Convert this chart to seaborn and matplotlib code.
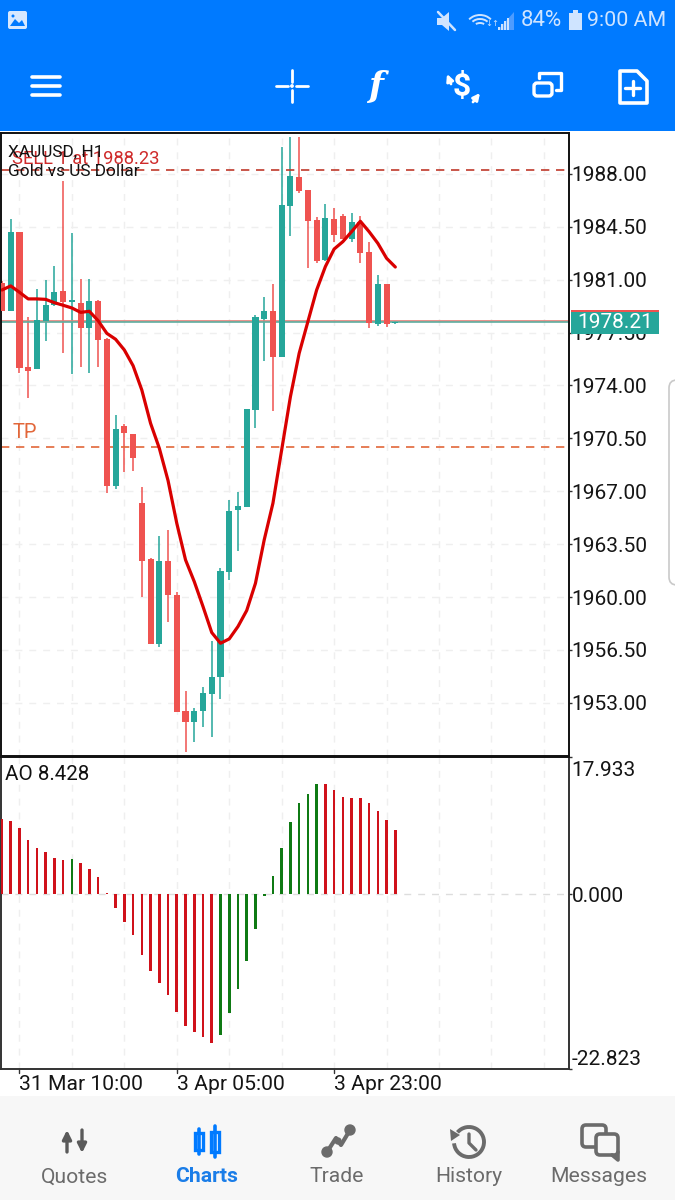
import numpy as np
import pandas as pd
import matplotlib
matplotlib.use('Agg')
import matplotlib.pyplot as plt
from matplotlib.patches import Rectangle, FancyBboxPatch, Circle, Polygon, Arc
from matplotlib.transforms import ScaledTranslation
import seaborn as sns

# Candles (H1 XAUUSD), oldest first
opens = [1980.76, 1978.95, 1984.16, 1975.23, 1975.09, 1978.29, 1979.31, 1980.23, 1979.53, 1979.48,
         1977.83, 1979.61, 1977.06, 1967.33, 1971.30, 1970.81, 1966.21, 1962.50, 1956.90, 1962.37,
         1960.12, 1952.49, 1951.76, 1952.49, 1953.61, 1954.72, 1961.69, 1965.79, 1965.94, 1972.40,
         1978.40, 1978.95, 1975.91, 1985.88, 1987.80, 1986.92, 1984.95, 1982.31, 1985.00, 1985.24,
         1983.72, 1984.82, 1982.84, 1978.07, 1980.72, 1978.11]
highs = [1980.90, 1985.00, 1984.16, 1978.56, 1980.37, 1980.98, 1981.91, 1987.53, 1984.07, 1981.03,
         1981.03, 1979.66, 1977.12, 1972.05, 1971.43, 1970.81, 1967.25, 1962.57, 1964.07, 1964.44,
         1960.32, 1953.79, 1952.64, 1954.05, 1957.12, 1961.93, 1966.39, 1966.96, 1972.45, 1978.67,
         1979.88, 1980.70, 1989.81, 1990.42, 1990.42, 1986.92, 1985.17, 1985.99, 1985.77, 1985.33,
         1985.44, 1985.22, 1983.52, 1981.29, 1980.72, 1978.29]
lows = [1978.90, 1978.95, 1974.85, 1973.15, 1975.09, 1976.97, 1979.26, 1976.13, 1974.74, 1975.20,
        1974.85, 1975.20, 1966.87, 1967.18, 1968.30, 1968.35, 1959.99, 1956.90, 1956.72, 1958.33,
        1952.42, 1949.73, 1950.39, 1951.43, 1950.77, 1953.24, 1961.13, 1963.05, 1965.94, 1971.17,
        1975.62, 1972.34, 1975.91, 1983.89, 1986.76, 1981.80, 1982.09, 1982.26, 1983.52, 1983.72,
        1983.52, 1982.13, 1977.78, 1977.96, 1977.89, 1978.05]
closes = [1978.95, 1984.16, 1975.16, 1974.98, 1978.34, 1979.33, 1980.17, 1979.53, 1979.64, 1977.83,
          1979.57, 1976.99, 1967.33, 1971.12, 1970.84, 1969.19, 1962.41, 1956.90, 1962.37, 1960.12,
          1952.42, 1951.76, 1952.49, 1953.68, 1954.72, 1961.75, 1965.72, 1966.03, 1972.45, 1978.53,
          1978.91, 1975.86, 1985.95, 1987.84, 1986.87, 1984.91, 1982.24, 1985.06, 1983.94, 1983.72,
          1984.82, 1982.77, 1978.16, 1980.72, 1978.05, 1978.21]
ma_line = [1980.32, 1980.59, 1980.17, 1979.73, 1979.73, 1979.70, 1979.48, 1979.31, 1979.13, 1978.84,
           1978.91, 1978.29, 1977.45, 1977.06, 1976.35, 1975.31, 1973.70, 1971.50, 1969.85, 1967.71,
           1964.88, 1962.46, 1961.02, 1959.37, 1957.65, 1956.94, 1957.23, 1958.05, 1959.11, 1960.91,
           1963.78, 1966.21, 1969.74, 1973.26, 1976.13, 1978.23, 1980.32, 1981.87, 1983.03, 1983.52,
           1984.18, 1984.87, 1984.18, 1983.41, 1982.42, 1981.84]
ao_values = [9.79, 9.57, 8.61, 7.12, 6.03, 5.55, 4.72, 4.50, 4.59, 4.06, 3.36, 2.32, 0.13, -1.75, -3.58,
             -5.33, -7.91, -10.05, -11.62, -13.11, -15.38, -17.17, -18.00, -18.65, -19.40, -18.39,
             -15.55, -12.32, -8.74, -4.50, -0.22, 2.36, 5.99, 9.39, 11.88, 13.11, 14.42, 14.42, 13.67,
             12.71, 12.58, 12.54, 11.88, 10.83, 9.74, 8.428]

price_ticks = [1988.0, 1984.5, 1981.0, 1977.5, 1974.0, 1970.5, 1967.0, 1963.5, 1960.0, 1956.5, 1953.0]
time_grid = [2, 8, 14, 20, 26, 32, 38, 44, 50, 56, 62]
time_ticks = [2, 20, 38]
time_labels = ['31 Mar 10:00', '3 Apr 05:00', '3 Apr 23:00']
ao_ticks = [17.933, 0.0, -22.823]
ao_tick_labels = ['17.933', '0.000', '-22.823']
sell_price = 1988.23
tp_price = 1969.95
ask_price = 1978.30
bid_price = 1978.17

W, H = 675, 1200
UP = '#26a69a'
DOWN = '#ef5350'
BLUE = '#007aff'
GREY = '#6b6b6b'

sns.set_theme(style='white')
plt.rcParams['font.family'] = ['Roboto', 'DejaVu Sans']

fig = plt.figure(figsize=(W / 100, H / 100), dpi=100, facecolor='white')


def px_axes(left, top, right, bottom):
    return fig.add_axes([left / W, 1 - bottom / H, (right - left) / W, (bottom - top) / H])


candles = pd.DataFrame({'bar': np.arange(len(opens)), 'open': opens, 'high': highs,
                        'low': lows, 'close': closes, 'ma': ma_line, 'ao': ao_values})
candles['rising'] = candles['close'] >= candles['open']
candles['ao_dir'] = np.where(candles['ao'].diff() > 0, 'up', 'down')

# Price panel
ax = px_axes(1, 133, 569, 756)
ax.set_xlim(-0.11, 64.87)
ax.set_ylim(1949.48, 1990.71)
ax.set_axisbelow(True)
for colour, rows in [(UP, candles[candles['rising']]), (DOWN, candles[~candles['rising']])]:
    ax.vlines(rows['bar'], rows['low'], rows['high'], color=colour, lw=1.3, alpha=0.85, zorder=2)
    ax.bar(rows['bar'], (rows['close'] - rows['open']).abs(), bottom=rows[['open', 'close']].min(axis=1),
           width=0.7, color=colour, edgecolor='none', linewidth=0, zorder=3)
sns.lineplot(data=candles, x='bar', y='ma', color='#d90000', lw=2.3, ax=ax, zorder=4)
ax.axhline(ask_price, color='#e57f78', lw=1.2, zorder=2.5)
ax.axhline(bid_price, color='#5fae9f', lw=1.2, zorder=2.5)
ax.axhline(sell_price, color='#c0392b', lw=1.2, ls=(0, (5, 4)), zorder=2.5)
ax.axhline(tp_price, color='#e2673a', lw=1.2, ls=(0, (5, 4)), zorder=2.5)
ax.set_xticks(time_grid)
ax.tick_params(axis='x', bottom=False, labelbottom=False)
ax.yaxis.tick_right()
ax.set_yticks(price_ticks)
ax.set_yticklabels([f'{t:.2f}' for t in price_ticks], fontsize=15, color='#151515')
ax.tick_params(axis='y', right=True, length=2, width=1, pad=0, color='#333333')
ax.grid(True, color='#efefef', lw=1, ls=(0, (5, 5)))
ax.set_xlabel('')
ax.set_ylabel('')
for side in ax.spines.values():
    side.set_color('#111111')
    side.set_linewidth(1.4)

# AO panel
ax2 = px_axes(1, 757, 569, 1069)
sns.barplot(data=candles, x='bar', y='ao', hue='ao_dir', palette={'up': '#0f7a14', 'down': '#d0121b'},
            native_scale=True, dodge=False, width=0.3, saturation=1, errorbar=None, legend=False, ax=ax2,
            edgecolor='none', linewidth=0, zorder=3)
ax2.set_xlim(-0.11, 64.87)
ax2.set_ylim(ao_ticks[2], ao_ticks[0])
ax2.set_xticks(time_grid)
ax2.set_xticklabels([''] * len(time_grid))
ax2.tick_params(axis='x', bottom=False)
ax2.grid(True, axis='x', color='#efefef', lw=1, ls=(0, (5, 5)))
ax2.axhline(0, color='#dddddd', lw=1, ls=(0, (5, 5)), zorder=1)
ax2.set_axisbelow(True)
ax2.yaxis.tick_right()
ax2.set_yticks(ao_ticks)
ax2.set_yticklabels(ao_tick_labels, fontsize=15, color='#151515')
ax2.tick_params(axis='y', right=True, length=2, width=1, pad=0, color='#333333')
labels = ax2.get_yticklabels()
labels[0].set_va('top')
labels[0].set_transform(labels[0].get_transform() + ScaledTranslation(0, -4 / 100, fig.dpi_scale_trans))
labels[2].set_va('bottom')
ax2.set_xlabel('')
ax2.set_ylabel('')
for side in ax2.spines.values():
    side.set_color('#333333')
    side.set_linewidth(1.4)
ax2.spines['top'].set_color('#111111')
for t, lab in zip(time_ticks, time_labels):
    ax2.annotate(lab, xy=(t, 0), xycoords=ax2.get_xaxis_transform(), xytext=(0, -15), textcoords='offset pixels',
                 fontsize=15.2, color='#151515', ha='left', va='center')
    ax2.plot([t, t], [0, -0.012], color='#333333', lw=1, transform=ax2.get_xaxis_transform(), clip_on=False)

# App chrome on a pixel grid over the whole figure
ov = fig.add_axes([0, 0, 1, 1], zorder=10)
ov.set_xlim(0, W)
ov.set_ylim(H, 0)
ov.axis('off')
ov.patch.set_alpha(0)

ov.add_patch(Rectangle((0, 0), W, 131, color=BLUE, lw=0))
ov.add_patch(Rectangle((0, 1096), W, 104, color='#f7f7f7', lw=0))

# Chart header text
ov.text(12, 159, 'SELL 1 at 1988.23', color='#cf2b2b', fontsize=13.2, va='center')
ov.text(13, 433, 'TP', color='#e2673a', fontsize=14.5, va='center')
ov.text(8, 152, 'XAUUSD, H1', fontsize=12.4, color='#111111', va='center')
ov.text(8, 172, 'Gold vs US Dollar', fontsize=12.4, color='#111111', va='center')
ov.text(5, 775, 'AO 8.428', fontsize=14.8, color='#111111', va='center')

# Current price tag
ov.add_patch(Rectangle((571, 310), 88, 24, color=UP, lw=0))
ov.add_patch(Rectangle((571, 310), 88, 2, color=DOWN, lw=0))
ov.text(615, 323, '1978.21', fontsize=15, color='white', ha='center', va='center')

# Side handle
ov.add_patch(FancyBboxPatch((669, 380), 20, 205, boxstyle='round,pad=0,rounding_size=8', fc='white',
                            ec='#c9c9c9', lw=1.2))

# Status bar
STATUS = '#cfe4ff'
ov.add_patch(FancyBboxPatch((8, 11), 19, 18, boxstyle='round,pad=0,rounding_size=2', fc='#d6e8ff', ec='none'))
ov.add_patch(Polygon([[10, 26], [15, 19], [19, 23], [22, 20], [25, 26]], fc=BLUE, ec='none'))
ov.add_patch(Circle((13, 16), 1.5, fc=BLUE, ec='none'))
ov.add_patch(Polygon([[437, 18], [442, 18], [449, 12], [449, 31], [442, 25], [437, 25]], fc=STATUS, ec='none'))
ov.plot([438, 455], [12, 30], color=STATUS, lw=1.8)
for r in [4, 8, 12]:
    ov.add_patch(Arc((480, 27), 2 * r + 4, 2 * r, theta1=215, theta2=325, color=STATUS, lw=1.4))
ov.text(492, 24, '↓↑', fontsize=6, color=STATUS, ha='center', va='center', family=['DejaVu Sans'])
ov.add_patch(Polygon([[498, 30], [514, 30], [514, 12]], fc='#4d9cff', ec='none'))
for i, h in enumerate([3, 6, 9, 12]):
    ov.add_patch(Rectangle((498 + i * 3, 30 - h), 1.8, h, color=STATUS, lw=0))
ov.text(541, 21, '84%', fontsize=16, color=STATUS, ha='center', va='center')
ov.add_patch(Rectangle((569, 13), 13, 17, color=STATUS, lw=0))
ov.add_patch(Rectangle((573, 10), 5, 3, color=STATUS, lw=0))
ov.text(626.5, 21, '9:00 AM', fontsize=15.4, color=STATUS, ha='center', va='center')

# Toolbar icons
for y in [77, 86, 95]:
    ov.plot([32, 60], [y, y], color='white', lw=2.6, solid_capstyle='round')
for x0, y0, x1, y1 in [(276, 86, 288, 86), (296, 86, 308, 86), (292, 70, 292, 82), (292, 90, 292, 102)]:
    ov.plot([x0, x1], [y0, y1], color='white', lw=2)
ov.add_patch(Circle((292, 86), 1.2, color='white'))
ov.text(376, 87, 'f', fontsize=25, color='white', style='italic', weight='bold', ha='center', va='center',
        family=['DejaVu Serif'])
ov.text(462, 87, '$', fontsize=23, color='white', weight='bold', ha='center', va='center')
ov.annotate('', xy=(447, 74), xytext=(451, 84), arrowprops=dict(arrowstyle='-|>', color='white', lw=2, shrinkA=0,
                                                                shrinkB=0, mutation_scale=10))
ov.annotate('', xy=(480, 93), xytext=(473, 102), arrowprops=dict(arrowstyle='-|>', color='white', lw=2, shrinkA=0,
                                                                 shrinkB=0, mutation_scale=10))
ov.add_patch(FancyBboxPatch((534, 83), 18, 13, boxstyle='round,pad=0,rounding_size=3', fc='none', ec='white', lw=2.4))
ov.plot([539, 539, 561, 561, 556], [78, 73, 73, 90, 90], color='white', lw=2.4)
ov.add_patch(Polygon([[620, 71], [637, 71], [647, 81], [647, 103], [620, 103]], closed=True, fc='none',
                     ec='white', lw=2.6, joinstyle='round'))
ov.plot([625, 640], [88, 88], color='white', lw=2.4)
ov.plot([632.5, 632.5], [81, 95], color='white', lw=2.4)

# Bottom navigation
nav_names = ['Quotes', 'Charts', 'Trade', 'History', 'Messages']
nav_x = [75, 207, 337, 469, 599]
for name, x in zip(nav_names, nav_x):
    active = name == 'Charts'
    ov.text(x, 1177, name, fontsize=15.2, color='#1a7de8' if active else GREY, ha='center', va='center',
            weight='bold' if active else 'normal')

# Quotes arrows
for x, y0, y1 in [(67, 1152, 1130), (82, 1130, 1153)]:
    ov.annotate('', xy=(x, y1), xytext=(x, y0), arrowprops=dict(arrowstyle='-|>', color='#5a5a5a', lw=2.4, shrinkA=0,
                                                                shrinkB=0, mutation_scale=13))
# Charts candles
for x, top, bot, y0, y1 in [(199, 1129, 1154, 1133, 1150), (215, 1126, 1157, 1132, 1152)]:
    ov.plot([x, x], [top, bot], color=BLUE, lw=2.6)
    ov.add_patch(Rectangle((x - 4, y0), 8, y1 - y0, fc='white', ec=BLUE, lw=2.4))
# Trade line
trade_px = [(327, 1152), (336, 1138), (341, 1145), (350, 1130)]
ov.plot(*zip(*trade_px), color=GREY, lw=3)
ov.add_patch(Circle((327, 1152), 5, color=GREY))
ov.add_patch(Circle((350, 1130), 5, color=GREY))
ov.add_patch(Circle((338, 1141), 3, color=GREY))
# History clock
ov.add_patch(Arc((469, 1142), 30, 30, theta1=-140, theta2=175, color=GREY, lw=2.8))
ov.plot([469, 469, 476], [1134, 1143, 1150], color=GREY, lw=2.4)
ov.add_patch(Polygon([[450, 1129], [460, 1135], [451, 1141]], fc=GREY, ec='none'))
# Messages bubbles
ov.add_patch(FancyBboxPatch((582, 1125), 24, 22, boxstyle='round,pad=0,rounding_size=4', fc='#f7f7f7', ec=GREY, lw=2.6))
ov.add_patch(FancyBboxPatch((596, 1134), 22, 21, boxstyle='round,pad=0,rounding_size=4', fc='#f7f7f7', ec=GREY, lw=2.6))
ov.plot([612, 618, 618], [1155, 1160, 1152], color=GREY, lw=2.6)

fig.savefig('out.png', dpi=100)
